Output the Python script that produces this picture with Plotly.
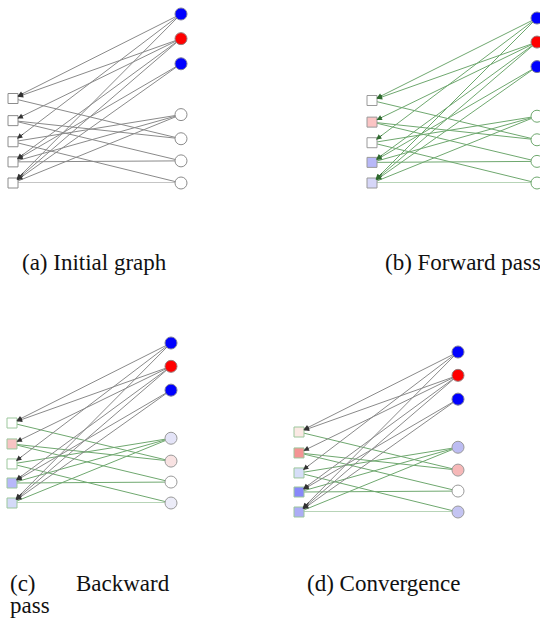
import plotly.graph_objects as go

W, H = 540, 624

# ---- data ----
left_nodes = ["u1", "u2", "u3", "u4", "u5"]
right_nodes = ["s1", "s2", "s3", "v1", "v2", "v3", "v4"]
# seed -> square (directed, arrow at square)
top_edges = [(0, 0), (0, 2), (0, 4), (1, 0), (1, 1), (1, 3), (1, 4), (2, 3), (2, 4)]
# square -- lower circle (undirected)
bottom_edges = [(0, 4), (1, 4), (1, 5), (2, 3), (2, 6), (3, 3), (3, 5), (4, 3), (4, 6)]

captions = ["(a) Initial graph", "(b) Forward pass", "(c)", "(d) Convergence"]

seed_colors = ["#0000ff", "#ff0000", "#0000ff"]
square_fill = {
    "a": ["#ffffff", "#ffffff", "#ffffff", "#ffffff", "#ffffff"],
    "b": ["#ffffff", "#fbc4c4", "#ffffff", "#b8b8f8", "#d6d6f8"],
    "c": ["#ffffff", "#f8c4c4", "#ffffff", "#b8b8fa", "#d4daf8"],
    "d": ["#fbe9e4", "#f49494", "#d6def8", "#8888fa", "#acacf6"],
}
circle_fill = {
    "a": ["#ffffff", "#ffffff", "#ffffff", "#ffffff"],
    "b": ["#ffffff", "#ffffff", "#ffffff", "#ffffff"],
    "c": ["#e4e4f8", "#f8e2e2", "#ffffff", "#ececf8"],
    "d": ["#bcbcf2", "#f6b8b8", "#ffffff", "#c4c4f2"],
}

# ---- layout / style ----
LEFT_Y = [84, 106, 127, 147, 168]
RIGHT_Y = [0, 24.5, 49.5, 100, 124, 146, 168]
GRAY = "#8a8a8a"
GREEN = "#6fa86f"
panels = {
    "a": dict(box=(13, 181, 14, 183), top=GRAY, bot=GRAY, head="#333333",
              sqb="#8c8c8c", cib="#8c8c8c"),
    "b": dict(box=(372, 537, 18, 183), top=GREEN, bot=GREEN, head="#2f6a2f",
              sqb="#9a9a9a", cib=GREEN),
    "c": dict(box=(12, 171, 343, 503), top=GRAY, bot=GREEN, head="#333333",
              sqb="#9cc79c", cib="#9a9a9a"),
    "d": dict(box=(299, 458, 352, 512), top=GRAY, bot=GREEN, head="#333333",
              sqb="#9cc79c", cib="#9a9a9a"),
}
HEAD_FRAC = 0.07


def px(v):
    return v / W


def py(v):
    return 1 - v / H


fig = go.Figure()
annotations = []
layout_axes = {}

for i, (key, p) in enumerate(panels.items()):
    n = "" if i == 0 else str(i + 1)
    xa, ya = "x" + n, "y" + n
    x0, x1, y0, y1 = p["box"]
    layout_axes["xaxis" + n] = dict(domain=[px(x0), px(x1)], range=[0, 1], visible=False,
                                    fixedrange=True)
    layout_axes["yaxis" + n] = dict(domain=[py(y1), py(y0)], range=[168, 0],
                                    visible=False, fixedrange=True)
    # undirected bottom edges
    for (l, r) in bottom_edges:
        fig.add_trace(go.Scatter(x=[0, 1], y=[LEFT_Y[l], RIGHT_Y[r]], mode="lines",
                                 line=dict(color=p["bot"], width=1), xaxis=xa, yaxis=ya,
                                 hoverinfo="skip", showlegend=False, cliponaxis=False))
    # directed top edges: line + dark arrow head near the square
    for (r, l) in top_edges:
        fig.add_trace(go.Scatter(x=[1, 0], y=[RIGHT_Y[r], LEFT_Y[l]], mode="lines",
                                 line=dict(color=p["top"], width=1), xaxis=xa, yaxis=ya,
                                 hoverinfo="skip", showlegend=False, cliponaxis=False))
        tx = HEAD_FRAC
        ty = LEFT_Y[l] + (RIGHT_Y[r] - LEFT_Y[l]) * HEAD_FRAC
        annotations.append(dict(x=0, y=LEFT_Y[l], ax=tx, ay=ty, xref=xa, yref=ya,
                                axref=xa, ayref=ya, showarrow=True, arrowhead=2,
                                arrowsize=1.2, arrowwidth=0.9, arrowcolor=p["head"],
                                standoff=5, text=""))
    # squares
    fig.add_trace(go.Scatter(x=[0] * len(left_nodes), y=LEFT_Y, mode="markers",
                             text=left_nodes, hoverinfo="text",
                             marker=dict(symbol="square", size=10, color=square_fill[key],
                                         line=dict(color=p["sqb"], width=1)),
                             xaxis=xa, yaxis=ya, showlegend=False, cliponaxis=False))
    # circles
    cfill = seed_colors + circle_fill[key]
    cline = ["#7a7a9a", "#9a7a7a", "#7a7a9a"] + [p["cib"]] * 4
    fig.add_trace(go.Scatter(x=[1] * len(right_nodes), y=RIGHT_Y, mode="markers",
                             text=right_nodes, hoverinfo="text",
                             marker=dict(symbol="circle", size=12, color=cfill,
                                         line=dict(color=cline, width=1)),
                             xaxis=xa, yaxis=ya, showlegend=False, cliponaxis=False))

FONT = dict(family="Liberation Serif, Times New Roman, serif", size=23, color="#111111")
cap_pos = [(20, 262), (383, 262), (8, 583), (305, 583)]
for txt, (cx, cy) in zip(captions, cap_pos):
    annotations.append(dict(x=px(cx), y=py(cy), xref="paper", yref="paper", text=txt,
                            showarrow=False, xanchor="left", yanchor="middle", font=FONT))
annotations.append(dict(x=px(172), y=py(583), xref="paper", yref="paper", text="Backward",
                        showarrow=False, xanchor="right", yanchor="middle", font=FONT))
annotations.append(dict(x=px(8), y=py(605), xref="paper", yref="paper", text="pass",
                        showarrow=False, xanchor="left", yanchor="middle", font=FONT))

fig.update_layout(width=W, height=H, margin=dict(l=0, r=0, t=0, b=0),
                  paper_bgcolor="white", plot_bgcolor="white",
                  annotations=annotations, **layout_axes)

fig.write_html("out.html", config={"displayModeBar": False, "staticPlot": True},
               post_script="document.body.style.margin='0';document.body.style.overflow='hidden';")
